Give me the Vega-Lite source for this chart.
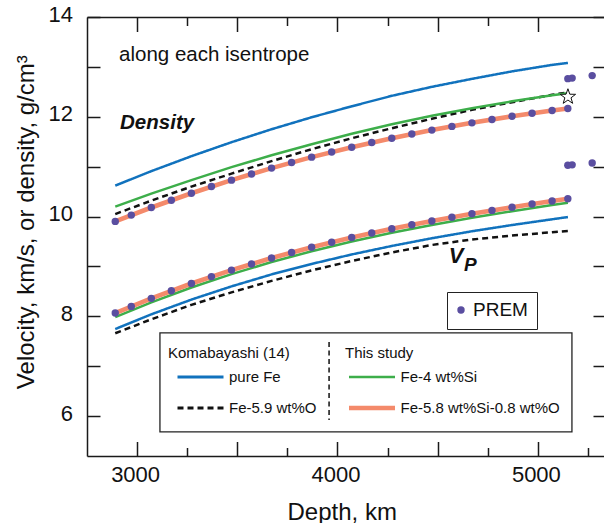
{
  "$schema": "https://vega.github.io/schema/vega-lite/v6.json",
  "width": 517,
  "height": 439,
  "autosize": {"type": "none"},
  "padding": {"left": 87, "top": 17, "right": 0, "bottom": 67},
  "background": "white",
  "config": {
    "view": {"stroke": null},
    "axis": {
      "grid": false,
      "domainColor": "#1a1a1a",
      "domainWidth": 1.5,
      "tickColor": "#1a1a1a",
      "tickWidth": 1.5,
      "labelColor": "#111111",
      "titleColor": "#111111",
      "labelFont": "Liberation Sans",
      "titleFont": "Liberation Sans",
      "titleFontWeight": "normal"
    },
    "legend": {
      "titleFont": "Liberation Sans",
      "labelFont": "Liberation Sans",
      "titleColor": "#111111",
      "labelColor": "#111111",
      "titleFontWeight": "normal"
    }
  },
  "datasets": {
    "komabayashi": [
      {"depth": 2891, "value": 10.62, "series": "pure Fe", "property": "density"},
      {"depth": 3071, "value": 10.91, "series": "pure Fe", "property": "density"},
      {"depth": 3271, "value": 11.21, "series": "pure Fe", "property": "density"},
      {"depth": 3471, "value": 11.49, "series": "pure Fe", "property": "density"},
      {"depth": 3671, "value": 11.75, "series": "pure Fe", "property": "density"},
      {"depth": 3871, "value": 11.99, "series": "pure Fe", "property": "density"},
      {"depth": 4071, "value": 12.21, "series": "pure Fe", "property": "density"},
      {"depth": 4271, "value": 12.42, "series": "pure Fe", "property": "density"},
      {"depth": 4471, "value": 12.60, "series": "pure Fe", "property": "density"},
      {"depth": 4671, "value": 12.76, "series": "pure Fe", "property": "density"},
      {"depth": 4871, "value": 12.91, "series": "pure Fe", "property": "density"},
      {"depth": 5071, "value": 13.04, "series": "pure Fe", "property": "density"},
      {"depth": 5150, "value": 13.08, "series": "pure Fe", "property": "density"},
      {"depth": 2891, "value": 7.745, "series": "pure Fe", "property": "vp"},
      {"depth": 3071, "value": 8.04, "series": "pure Fe", "property": "vp"},
      {"depth": 3271, "value": 8.335, "series": "pure Fe", "property": "vp"},
      {"depth": 3471, "value": 8.60, "series": "pure Fe", "property": "vp"},
      {"depth": 3671, "value": 8.84, "series": "pure Fe", "property": "vp"},
      {"depth": 3871, "value": 9.05, "series": "pure Fe", "property": "vp"},
      {"depth": 4071, "value": 9.24, "series": "pure Fe", "property": "vp"},
      {"depth": 4271, "value": 9.41, "series": "pure Fe", "property": "vp"},
      {"depth": 4471, "value": 9.565, "series": "pure Fe", "property": "vp"},
      {"depth": 4671, "value": 9.705, "series": "pure Fe", "property": "vp"},
      {"depth": 4871, "value": 9.83, "series": "pure Fe", "property": "vp"},
      {"depth": 5071, "value": 9.945, "series": "pure Fe", "property": "vp"},
      {"depth": 5150, "value": 9.99, "series": "pure Fe", "property": "vp"},
      {"depth": 2891, "value": 10.05, "series": "Fe-5.9 wt%O", "property": "density"},
      {"depth": 3071, "value": 10.32, "series": "Fe-5.9 wt%O", "property": "density"},
      {"depth": 3271, "value": 10.60, "series": "Fe-5.9 wt%O", "property": "density"},
      {"depth": 3471, "value": 10.86, "series": "Fe-5.9 wt%O", "property": "density"},
      {"depth": 3671, "value": 11.11, "series": "Fe-5.9 wt%O", "property": "density"},
      {"depth": 3871, "value": 11.35, "series": "Fe-5.9 wt%O", "property": "density"},
      {"depth": 4071, "value": 11.57, "series": "Fe-5.9 wt%O", "property": "density"},
      {"depth": 4271, "value": 11.77, "series": "Fe-5.9 wt%O", "property": "density"},
      {"depth": 4471, "value": 11.96, "series": "Fe-5.9 wt%O", "property": "density"},
      {"depth": 4671, "value": 12.14, "series": "Fe-5.9 wt%O", "property": "density"},
      {"depth": 4871, "value": 12.29, "series": "Fe-5.9 wt%O", "property": "density"},
      {"depth": 5071, "value": 12.44, "series": "Fe-5.9 wt%O", "property": "density"},
      {"depth": 5150, "value": 12.49, "series": "Fe-5.9 wt%O", "property": "density"},
      {"depth": 2891, "value": 7.66, "series": "Fe-5.9 wt%O", "property": "vp"},
      {"depth": 3071, "value": 7.94, "series": "Fe-5.9 wt%O", "property": "vp"},
      {"depth": 3271, "value": 8.23, "series": "Fe-5.9 wt%O", "property": "vp"},
      {"depth": 3471, "value": 8.48, "series": "Fe-5.9 wt%O", "property": "vp"},
      {"depth": 3671, "value": 8.71, "series": "Fe-5.9 wt%O", "property": "vp"},
      {"depth": 3871, "value": 8.92, "series": "Fe-5.9 wt%O", "property": "vp"},
      {"depth": 4071, "value": 9.11, "series": "Fe-5.9 wt%O", "property": "vp"},
      {"depth": 4271, "value": 9.28, "series": "Fe-5.9 wt%O", "property": "vp"},
      {"depth": 4471, "value": 9.43, "series": "Fe-5.9 wt%O", "property": "vp"},
      {"depth": 4671, "value": 9.54, "series": "Fe-5.9 wt%O", "property": "vp"},
      {"depth": 4871, "value": 9.62, "series": "Fe-5.9 wt%O", "property": "vp"},
      {"depth": 5071, "value": 9.685, "series": "Fe-5.9 wt%O", "property": "vp"},
      {"depth": 5150, "value": 9.71, "series": "Fe-5.9 wt%O", "property": "vp"}
    ],
    "thisStudy": [
      {"depth": 2891, "value": 10.20, "series": "Fe-4 wt%Si", "property": "density"},
      {"depth": 3071, "value": 10.46, "series": "Fe-4 wt%Si", "property": "density"},
      {"depth": 3271, "value": 10.73, "series": "Fe-4 wt%Si", "property": "density"},
      {"depth": 3471, "value": 10.99, "series": "Fe-4 wt%Si", "property": "density"},
      {"depth": 3671, "value": 11.23, "series": "Fe-4 wt%Si", "property": "density"},
      {"depth": 3871, "value": 11.45, "series": "Fe-4 wt%Si", "property": "density"},
      {"depth": 4071, "value": 11.66, "series": "Fe-4 wt%Si", "property": "density"},
      {"depth": 4271, "value": 11.85, "series": "Fe-4 wt%Si", "property": "density"},
      {"depth": 4471, "value": 12.02, "series": "Fe-4 wt%Si", "property": "density"},
      {"depth": 4671, "value": 12.17, "series": "Fe-4 wt%Si", "property": "density"},
      {"depth": 4871, "value": 12.31, "series": "Fe-4 wt%Si", "property": "density"},
      {"depth": 5071, "value": 12.43, "series": "Fe-4 wt%Si", "property": "density"},
      {"depth": 5150, "value": 12.47, "series": "Fe-4 wt%Si", "property": "density"},
      {"depth": 2891, "value": 7.985, "series": "Fe-4 wt%Si", "property": "vp"},
      {"depth": 3071, "value": 8.28, "series": "Fe-4 wt%Si", "property": "vp"},
      {"depth": 3271, "value": 8.578, "series": "Fe-4 wt%Si", "property": "vp"},
      {"depth": 3471, "value": 8.846, "series": "Fe-4 wt%Si", "property": "vp"},
      {"depth": 3671, "value": 9.088, "series": "Fe-4 wt%Si", "property": "vp"},
      {"depth": 3871, "value": 9.304, "series": "Fe-4 wt%Si", "property": "vp"},
      {"depth": 4071, "value": 9.499, "series": "Fe-4 wt%Si", "property": "vp"},
      {"depth": 4271, "value": 9.674, "series": "Fe-4 wt%Si", "property": "vp"},
      {"depth": 4471, "value": 9.832, "series": "Fe-4 wt%Si", "property": "vp"},
      {"depth": 4671, "value": 9.976, "series": "Fe-4 wt%Si", "property": "vp"},
      {"depth": 4871, "value": 10.107, "series": "Fe-4 wt%Si", "property": "vp"},
      {"depth": 5071, "value": 10.23, "series": "Fe-4 wt%Si", "property": "vp"},
      {"depth": 5150, "value": 10.276, "series": "Fe-4 wt%Si", "property": "vp"},
      {"depth": 2891, "value": 9.903, "series": "Fe-5.8 wt%Si-0.8 wt%O", "property": "density"},
      {"depth": 3071, "value": 10.181, "series": "Fe-5.8 wt%Si-0.8 wt%O", "property": "density"},
      {"depth": 3271, "value": 10.467, "series": "Fe-5.8 wt%Si-0.8 wt%O", "property": "density"},
      {"depth": 3471, "value": 10.73, "series": "Fe-5.8 wt%Si-0.8 wt%O", "property": "density"},
      {"depth": 3671, "value": 10.971, "series": "Fe-5.8 wt%Si-0.8 wt%O", "property": "density"},
      {"depth": 3871, "value": 11.191, "series": "Fe-5.8 wt%Si-0.8 wt%O", "property": "density"},
      {"depth": 4071, "value": 11.39, "series": "Fe-5.8 wt%Si-0.8 wt%O", "property": "density"},
      {"depth": 4271, "value": 11.571, "series": "Fe-5.8 wt%Si-0.8 wt%O", "property": "density"},
      {"depth": 4471, "value": 11.734, "series": "Fe-5.8 wt%Si-0.8 wt%O", "property": "density"},
      {"depth": 4671, "value": 11.88, "series": "Fe-5.8 wt%Si-0.8 wt%O", "property": "density"},
      {"depth": 4871, "value": 12.01, "series": "Fe-5.8 wt%Si-0.8 wt%O", "property": "density"},
      {"depth": 5071, "value": 12.125, "series": "Fe-5.8 wt%Si-0.8 wt%O", "property": "density"},
      {"depth": 5150, "value": 12.166, "series": "Fe-5.8 wt%Si-0.8 wt%O", "property": "density"},
      {"depth": 2891, "value": 8.065, "series": "Fe-5.8 wt%Si-0.8 wt%O", "property": "vp"},
      {"depth": 3071, "value": 8.36, "series": "Fe-5.8 wt%Si-0.8 wt%O", "property": "vp"},
      {"depth": 3271, "value": 8.658, "series": "Fe-5.8 wt%Si-0.8 wt%O", "property": "vp"},
      {"depth": 3471, "value": 8.926, "series": "Fe-5.8 wt%Si-0.8 wt%O", "property": "vp"},
      {"depth": 3671, "value": 9.168, "series": "Fe-5.8 wt%Si-0.8 wt%O", "property": "vp"},
      {"depth": 3871, "value": 9.384, "series": "Fe-5.8 wt%Si-0.8 wt%O", "property": "vp"},
      {"depth": 4071, "value": 9.579, "series": "Fe-5.8 wt%Si-0.8 wt%O", "property": "vp"},
      {"depth": 4271, "value": 9.754, "series": "Fe-5.8 wt%Si-0.8 wt%O", "property": "vp"},
      {"depth": 4471, "value": 9.912, "series": "Fe-5.8 wt%Si-0.8 wt%O", "property": "vp"},
      {"depth": 4671, "value": 10.056, "series": "Fe-5.8 wt%Si-0.8 wt%O", "property": "vp"},
      {"depth": 4871, "value": 10.187, "series": "Fe-5.8 wt%Si-0.8 wt%O", "property": "vp"},
      {"depth": 5071, "value": 10.31, "series": "Fe-5.8 wt%Si-0.8 wt%O", "property": "vp"},
      {"depth": 5150, "value": 10.356, "series": "Fe-5.8 wt%Si-0.8 wt%O", "property": "vp"}
    ],
    "prem": [
      {"depth": 2891, "value": 9.903, "source": "PREM"},
      {"depth": 2971, "value": 10.029, "source": "PREM"},
      {"depth": 3071, "value": 10.181, "source": "PREM"},
      {"depth": 3171, "value": 10.327, "source": "PREM"},
      {"depth": 3271, "value": 10.467, "source": "PREM"},
      {"depth": 3371, "value": 10.601, "source": "PREM"},
      {"depth": 3471, "value": 10.73, "source": "PREM"},
      {"depth": 3571, "value": 10.853, "source": "PREM"},
      {"depth": 3671, "value": 10.971, "source": "PREM"},
      {"depth": 3771, "value": 11.083, "source": "PREM"},
      {"depth": 3871, "value": 11.191, "source": "PREM"},
      {"depth": 3971, "value": 11.293, "source": "PREM"},
      {"depth": 4071, "value": 11.39, "source": "PREM"},
      {"depth": 4171, "value": 11.483, "source": "PREM"},
      {"depth": 4271, "value": 11.571, "source": "PREM"},
      {"depth": 4371, "value": 11.654, "source": "PREM"},
      {"depth": 4471, "value": 11.733, "source": "PREM"},
      {"depth": 4571, "value": 11.807, "source": "PREM"},
      {"depth": 4671, "value": 11.878, "source": "PREM"},
      {"depth": 4771, "value": 11.945, "source": "PREM"},
      {"depth": 4871, "value": 12.009, "source": "PREM"},
      {"depth": 4971, "value": 12.069, "source": "PREM"},
      {"depth": 5071, "value": 12.125, "source": "PREM"},
      {"depth": 5149.5, "value": 12.166, "source": "PREM"},
      {"depth": 5149.5, "value": 12.764, "source": "PREM"},
      {"depth": 5171, "value": 12.775, "source": "PREM"},
      {"depth": 5271, "value": 12.825, "source": "PREM"},
      {"depth": 2891, "value": 8.065, "source": "PREM"},
      {"depth": 2971, "value": 8.199, "source": "PREM"},
      {"depth": 3071, "value": 8.36, "source": "PREM"},
      {"depth": 3171, "value": 8.513, "source": "PREM"},
      {"depth": 3271, "value": 8.658, "source": "PREM"},
      {"depth": 3371, "value": 8.796, "source": "PREM"},
      {"depth": 3471, "value": 8.926, "source": "PREM"},
      {"depth": 3571, "value": 9.05, "source": "PREM"},
      {"depth": 3671, "value": 9.168, "source": "PREM"},
      {"depth": 3771, "value": 9.279, "source": "PREM"},
      {"depth": 3871, "value": 9.384, "source": "PREM"},
      {"depth": 3971, "value": 9.484, "source": "PREM"},
      {"depth": 4071, "value": 9.579, "source": "PREM"},
      {"depth": 4171, "value": 9.669, "source": "PREM"},
      {"depth": 4271, "value": 9.754, "source": "PREM"},
      {"depth": 4371, "value": 9.835, "source": "PREM"},
      {"depth": 4471, "value": 9.912, "source": "PREM"},
      {"depth": 4571, "value": 9.986, "source": "PREM"},
      {"depth": 4671, "value": 10.056, "source": "PREM"},
      {"depth": 4771, "value": 10.123, "source": "PREM"},
      {"depth": 4871, "value": 10.187, "source": "PREM"},
      {"depth": 4971, "value": 10.25, "source": "PREM"},
      {"depth": 5071, "value": 10.31, "source": "PREM"},
      {"depth": 5149.5, "value": 10.356, "source": "PREM"},
      {"depth": 5149.5, "value": 11.028, "source": "PREM"},
      {"depth": 5171, "value": 11.036, "source": "PREM"},
      {"depth": 5271, "value": 11.073, "source": "PREM"}
    ],
    "icb": [
      {"depth": 5150, "value": 12.40}
    ]
  },
  "layer": [
    {
      "data": {"name": "komabayashi"},
      "mark": {"type": "line", "strokeWidth": 2.5, "clip": true},
      "encoding": {
        "x": {
          "field": "depth", "type": "quantitative",
          "scale": {"domain": [2750, 5330], "nice": false, "zero": false},
          "axis": {
            "orient": "bottom", "values": [3000, 4000, 5000], "format": "d",
            "ticks": false, "tickSize": 0, "domain": true,
            "labelPadding": 25.5, "labelBaseline": "alphabetic", "labelOffset": -2,
            "labelFontSize": 22, "labelFlush": false, "labelOverlap": false,
            "title": "Depth, km", "titleFontSize": 24,
            "titleX": 254.7, "titleY": 63, "titleBaseline": "alphabetic", "titleAlign": "center"
          }
        },
        "y": {
          "field": "value", "type": "quantitative",
          "scale": {"domain": [5.2, 14], "nice": false, "zero": false},
          "axis": {
            "orient": "left", "values": [6, 8, 10, 12, 14],
            "ticks": false, "tickSize": 0, "domain": true,
            "labelPadding": 14.5, "labelOffset": -3, "labelFontSize": 22,
            "labelFlush": false, "labelOverlap": false,
            "title": "Velocity, km/s, or density, g/cm³", "titleFontSize": 24,
            "titleX": -53.5, "titleY": 204.7, "titleAngle": 270,
            "titleBaseline": "alphabetic", "titleAlign": "center"
          }
        },
        "color": {
          "field": "series", "type": "nominal",
          "scale": {"domain": ["pure Fe", "Fe-5.9 wt%O"], "range": ["#1172bd", "#111111"]},
          "legend": {
            "title": "Komabayashi (14)", "orient": "none", "direction": "vertical",
            "legendX": 81, "legendY": 328.5, "padding": 0,
            "titleFontSize": 15, "titlePadding": 8.5, "labelFontSize": 15,
            "symbolType": "stroke", "symbolSize": 2116, "symbolStrokeWidth": 3,
            "symbolOffset": 8, "labelOffset": 4, "clipHeight": 16, "rowPadding": 15
          }
        },
        "strokeDash": {
          "field": "series", "type": "nominal",
          "scale": {"domain": ["pure Fe", "Fe-5.9 wt%O"], "range": [[1, 0], [6, 4]]},
          "legend": {
            "title": "Komabayashi (14)", "orient": "none", "direction": "vertical",
            "legendX": 81, "legendY": 328.5, "padding": 0,
            "titleFontSize": 15, "titlePadding": 8.5, "labelFontSize": 15,
            "symbolType": "stroke", "symbolSize": 2116, "symbolStrokeWidth": 3,
            "symbolOffset": 8, "labelOffset": 4, "clipHeight": 16, "rowPadding": 15
          }
        },
        "detail": {"field": "property"}
      }
    },
    {
      "data": {"name": "thisStudy"},
      "mark": {"type": "line", "clip": true},
      "encoding": {
        "x": {
          "field": "depth", "type": "quantitative",
          "axis": {
            "orient": "bottom", "values": [3000, 3250, 3500, 3750, 4000, 4250, 4500, 4750, 5000, 5250],
            "labels": false, "domain": false, "title": null,
            "tickSize": {"condition": {"test": "datum.value % 500 === 0", "value": -14.5}, "value": -8.5}
          }
        },
        "y": {
          "field": "value", "type": "quantitative",
          "axis": {
            "orient": "left", "values": [6, 7, 8, 9, 10, 11, 12, 13, 14],
            "labels": false, "domain": false, "title": null, "tickSize": -13
          }
        },
        "color": {
          "field": "series", "type": "nominal",
          "scale": {"domain": ["Fe-4 wt%Si", "Fe-5.8 wt%Si-0.8 wt%O"], "range": ["#3dae4a", "#f48a6b"]},
          "legend": {
            "title": "This study", "orient": "none", "direction": "vertical",
            "legendX": 258, "legendY": 328.5, "padding": 0,
            "titleFontSize": 15, "titlePadding": 8.5, "labelFontSize": 15,
            "symbolType": "stroke", "symbolSize": 2116,
            "symbolOffset": 1.5, "labelOffset": 3, "clipHeight": 16, "rowPadding": 15
          }
        },
        "strokeWidth": {
          "field": "series", "type": "nominal",
          "scale": {"domain": ["Fe-4 wt%Si", "Fe-5.8 wt%Si-0.8 wt%O"], "range": [2.5, 4.6]},
          "legend": {
            "title": "This study", "orient": "none", "direction": "vertical",
            "legendX": 258, "legendY": 328.5, "padding": 0,
            "titleFontSize": 15, "titlePadding": 8.5, "labelFontSize": 15,
            "symbolType": "stroke", "symbolSize": 2116,
            "symbolOffset": 1.5, "labelOffset": 3, "clipHeight": 16, "rowPadding": 15
          }
        },
        "detail": {"field": "property"}
      }
    },
    {
      "data": {"name": "prem"},
      "mark": {"type": "point", "filled": true, "size": 55, "opacity": 1},
      "encoding": {
        "x": {
          "field": "depth", "type": "quantitative",
          "axis": {
            "orient": "top", "values": [3000, 3250, 3500, 3750, 4000, 4250, 4500, 4750, 5000],
            "labels": false, "domain": true, "title": null,
            "tickSize": {"condition": {"test": "datum.value % 500 === 0", "value": -14.5}, "value": -8.5}
          }
        },
        "y": {
          "field": "value", "type": "quantitative",
          "axis": {
            "orient": "right", "values": [6, 7, 8, 9, 10, 11, 12, 13, 14],
            "labels": false, "domain": false, "title": null, "tickSize": -11
          }
        },
        "color": {
          "field": "source", "type": "nominal",
          "scale": {"domain": ["PREM"], "range": ["#5a4ea0"]},
          "legend": {
            "title": null, "orient": "none", "legendX": 360, "legendY": 275,
            "padding": 8.5, "strokeColor": "#222222",
            "labelFontSize": 19, "symbolType": "circle", "symbolSize": 55,
            "symbolOffset": -4, "labelOffset": 2.5
          }
        }
      }
    },
    {
      "data": {"name": "icb"},
      "mark": {
        "type": "point", "filled": true, "fill": "white", "stroke": "#111111", "strokeWidth": 1,
        "size": 260, "opacity": 1,
        "shape": "M0,-1L0.235,-0.324L0.951,-0.309L0.38,0.124L0.588,0.809L0,0.4L-0.588,0.809L-0.38,0.124L-0.951,-0.309L-0.235,-0.324Z"
      },
      "encoding": {
        "x": {"field": "depth", "type": "quantitative", "axis": null},
        "y": {"field": "value", "type": "quantitative", "axis": null}
      }
    },
    {
      "data": {"values": [{"box": "legend frame"}]},
      "mark": {"type": "rect", "fill": "white", "fillOpacity": 0, "stroke": "#222222", "strokeWidth": 1.3},
      "encoding": {
        "x": {"datum": 3114, "type": "quantitative", "axis": null},
        "x2": {"datum": 5170},
        "y": {"datum": 7.667, "type": "quantitative", "axis": null},
        "y2": {"datum": 5.683}
      }
    },
    {
      "data": {"values": [{"box": "legend divider"}]},
      "mark": {"type": "rule", "stroke": "#111111", "strokeWidth": 1.5, "strokeDash": [5, 3.5]},
      "encoding": {
        "x": {"datum": 3958, "type": "quantitative", "axis": null},
        "y": {"datum": 7.487, "type": "quantitative", "axis": null},
        "y2": {"datum": 5.924}
      }
    },
    {
      "data": {"values": [{"note": "along each isentrope"}]},
      "mark": {"type": "text", "align": "left", "baseline": "alphabetic", "font": "Liberation Sans", "fontSize": 20.5, "color": "#111111"},
      "encoding": {
        "x": {"datum": 2910, "type": "quantitative", "axis": null},
        "y": {"datum": 13.124, "type": "quantitative", "axis": null},
        "text": {"field": "note"}
      }
    },
    {
      "data": {"values": [{"note": "Density"}]},
      "mark": {"type": "text", "align": "left", "baseline": "alphabetic", "font": "Liberation Sans", "fontSize": 20.5, "fontWeight": "bold", "fontStyle": "italic", "color": "#111111"},
      "encoding": {
        "x": {"datum": 2915, "type": "quantitative", "axis": null},
        "y": {"datum": 11.749, "type": "quantitative", "axis": null},
        "text": {"field": "note"}
      }
    },
    {
      "data": {"values": [{"note": "V"}]},
      "mark": {"type": "text", "align": "left", "baseline": "alphabetic", "font": "Liberation Sans", "fontSize": 22, "fontWeight": "bold", "fontStyle": "italic", "color": "#111111"},
      "encoding": {
        "x": {"datum": 4555, "type": "quantitative", "axis": null},
        "y": {"datum": 9.076, "type": "quantitative", "axis": null},
        "text": {"field": "note"}
      }
    },
    {
      "data": {"values": [{"note": "P"}]},
      "mark": {"type": "text", "align": "left", "baseline": "alphabetic", "font": "Liberation Sans", "fontSize": 19, "fontWeight": "bold", "fontStyle": "italic", "color": "#111111"},
      "encoding": {
        "x": {"datum": 4631, "type": "quantitative", "axis": null},
        "y": {"datum": 8.916, "type": "quantitative", "axis": null},
        "text": {"field": "note"}
      }
    }
  ],
  "resolve": {
    "scale": {"color": "independent", "strokeDash": "independent", "strokeWidth": "independent"},
    "axis": {"x": "independent", "y": "independent"}
  }
}
